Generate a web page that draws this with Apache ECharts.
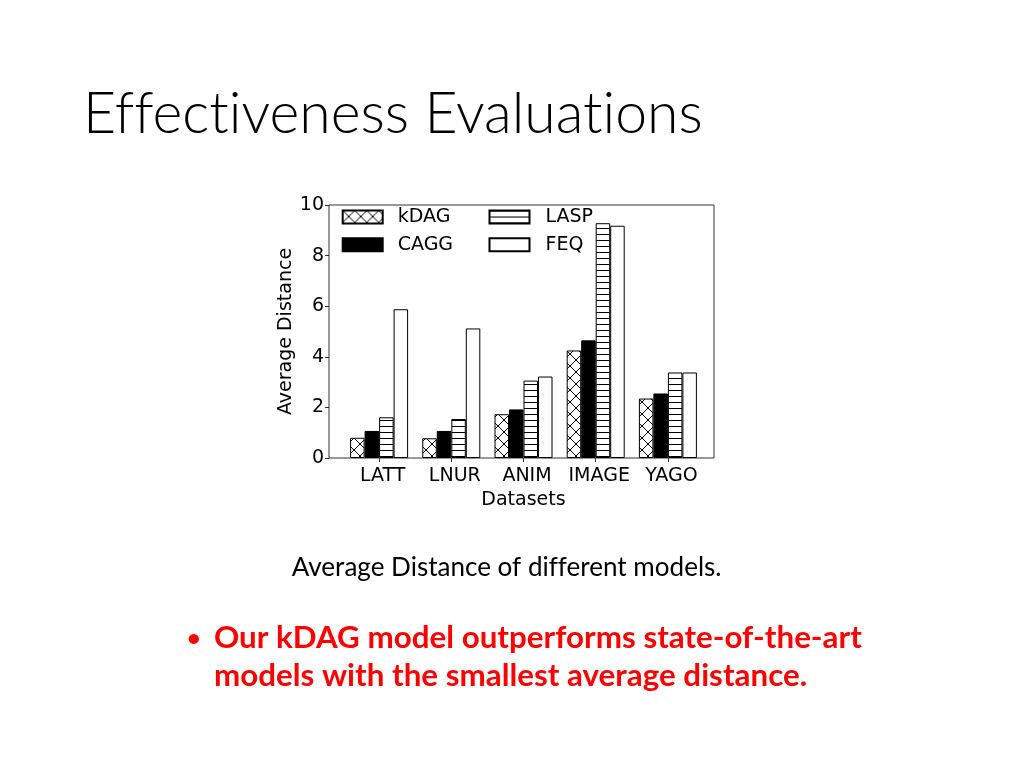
<!DOCTYPE html>
<html>
<head>
<meta charset="utf-8">
<script src="https://cdn.jsdelivr.net/npm/echarts@6/dist/echarts.min.js"></script>
<style>
html,body{margin:0;padding:0;background:#fff;}
#chart{width:1024px;height:768px;}
</style>
</head>
<body>
<div id="chart"></div>
<script>
// ---- data ----
const categories = ['LATT', 'LNUR', 'ANIM', 'IMAGE', 'YAGO'];
const seriesNames = ['kDAG', 'CAGG', 'LASP', 'FEQ'];
const kdag = [0.80, 0.78, 1.73, 4.25, 2.35];
const cagg = [1.07, 1.07, 1.92, 4.65, 2.55];
const lasp = [1.61, 1.54, 3.06, 9.28, 3.38];
const feq  = [5.88, 5.12, 3.22, 9.18, 3.38];
const yMin = 0, yMax = 10, yStep = 2;
const titleText = 'Effectiveness Evaluations';
const captionText = 'Average Distance of different models.';
const bulletLines = ['Our kDAG model outperforms state-of-the-art', 'models with the smallest average distance.'];

// avoid font ligatures (e.g. "ff", "ti") when drawing text
(function () {
  const P = CanvasRenderingContext2D.prototype;
  const origFill = P.fillText, origMeasure = P.measureText;
  P.fillText = function () { try { this.textRendering = 'optimizeSpeed'; } catch (e) {} return origFill.apply(this, arguments); };
  P.measureText = function () { try { this.textRendering = 'optimizeSpeed'; } catch (e) {} return origMeasure.apply(this, arguments); };
})();

// ---- hatch patterns ----
function hatchX(size) {
  const c = document.createElement('canvas');
  c.width = size; c.height = size;
  const g = c.getContext('2d');
  g.fillStyle = '#fff'; g.fillRect(0, 0, size, size);
  g.strokeStyle = '#000'; g.lineWidth = 1;
  g.beginPath();
  g.moveTo(0, 0); g.lineTo(size, size);
  g.moveTo(size, 0); g.lineTo(0, size);
  g.stroke();
  return c;
}
function hatchH(size) {
  const c = document.createElement('canvas');
  c.width = size; c.height = size;
  const g = c.getContext('2d');
  g.fillStyle = '#fff'; g.fillRect(0, 0, size, size);
  g.fillStyle = '#000'; g.fillRect(0, 0, size, 1);
  return c;
}
const patX = { image: hatchX(12), repeat: 'repeat' };
const patH = { image: hatchH(6), repeat: 'repeat' };

// ---- text fitting ----
const mctx = document.createElement('canvas').getContext('2d');
function fitSize(text, weight, family, target) {
  mctx.font = weight + ' 100px ' + family;
  const w = mctx.measureText(text).width;
  return 100 * target / w;
}
const titleFont = 'Lato';
const titleSize = fitSize(titleText, 300, titleFont, 620);
const capSize = fitSize(captionText, 'normal', 'Lato', 430);
const bulSize = fitSize(bulletLines[0], 'bold', 'Lato', 648);

const chartFont = 'DejaVu Sans';
const fs = 19;

const chart = echarts.init(document.getElementById('chart'), null, { renderer: 'canvas' });

function barSeries(name, data, color) {
  return {
    name: name, type: 'bar', data: data,
    xAxisIndex: 1, yAxisIndex: 1,
    barWidth: 14.5, barGap: '0%',
    itemStyle: { color: color, borderColor: '#000', borderWidth: 1 },
    emphasis: { disabled: true },
    animation: false
  };
}

const option = {
  animation: false,
  backgroundColor: '#fff',
  grid: [
    { left: 329, top: 205, width: 385, height: 253, show: true, borderColor: '#333', borderWidth: 1, backgroundColor: 'transparent' },
    { left: 343, top: 205, width: 361, height: 253 }
  ],
  xAxis: [
    { gridIndex: 0, type: 'value', min: 0, max: 1, show: false },
    {
      gridIndex: 1, type: 'category', data: categories,
      axisLine: { show: false },
      axisTick: { show: true, alignWithLabel: true, length: 4, lineStyle: { color: '#333' } },
      axisLabel: { color: '#000', fontSize: fs, fontFamily: chartFont, margin: 9, interval: 0, padding: [0, 0, 0, 7] },
      name: 'Datasets', nameLocation: 'middle', nameGap: 33,
      nameTextStyle: { color: '#000', fontSize: fs, fontFamily: chartFont },
      splitLine: { show: false }
    }
  ],
  yAxis: [
    {
      gridIndex: 0, type: 'value', min: yMin, max: yMax, interval: yStep,
      axisLine: { show: false },
      axisTick: { show: true, length: 4, lineStyle: { color: '#333' } },
      axisLabel: { color: '#000', fontSize: fs, fontFamily: chartFont, margin: 5 },
      splitLine: { show: false },
      name: 'Average Distance', nameLocation: 'middle', nameGap: 28,
      nameTextStyle: { color: '#000', fontSize: fs, fontFamily: chartFont }
    },
    { gridIndex: 1, type: 'value', min: yMin, max: yMax, show: false }
  ],
  legend: [
    {
      data: [seriesNames[0], seriesNames[1]], orient: 'vertical',
      left: 341.7, top: 207.5, padding: 0, itemGap: 8.7,
      itemWidth: 40, itemHeight: 13, icon: 'rect',
      textStyle: { color: '#000', fontSize: fs, fontFamily: chartFont, padding: [0, 0, 0, 10] },
      selectedMode: false
    },
    {
      data: [seriesNames[2], seriesNames[3]], orient: 'vertical',
      left: 488.5, top: 207.5, padding: 0, itemGap: 8.7,
      itemWidth: 40, itemHeight: 13, icon: 'rect',
      textStyle: { color: '#000', fontSize: fs, fontFamily: chartFont, padding: [0, 0, 0, 11] },
      selectedMode: false
    }
  ],
  series: [
    barSeries(seriesNames[0], kdag, patX),
    barSeries(seriesNames[1], cagg, '#000'),
    barSeries(seriesNames[2], lasp, patH),
    barSeries(seriesNames[3], feq, '#fff')
  ],
  graphic: [
    { type: 'text', left: 83, top: 120 - titleSize * 0.6, silent: true,
      style: { text: titleText, fill: '#000', fontSize: titleSize, fontFamily: titleFont, fontWeight: 300 } },
    { type: 'text', left: 291.7, top: 570.5 - capSize * 0.6, silent: true,
      style: { text: captionText, fill: '#000', fontSize: capSize, fontFamily: 'Lato' } },
    { type: 'text', left: 187, top: 641 - bulSize * 0.45, silent: true,
      style: { text: '\u2022', fill: '#ff0000', fontSize: bulSize * 0.75, fontFamily: 'Lato', fontWeight: 'bold' } },
    { type: 'text', left: 214, top: 641 - bulSize * 0.6, silent: true,
      style: { text: bulletLines[0], fill: '#ff0000', fontSize: bulSize, fontFamily: 'Lato', fontWeight: 'bold' } },
    { type: 'text', left: 214, top: 679.5 - bulSize * 0.6, silent: true,
      style: { text: bulletLines[1], fill: '#ff0000', fontSize: bulSize, fontFamily: 'Lato', fontWeight: 'bold' } }
  ]
};
chart.setOption(option);
</script>
</body>
</html>
